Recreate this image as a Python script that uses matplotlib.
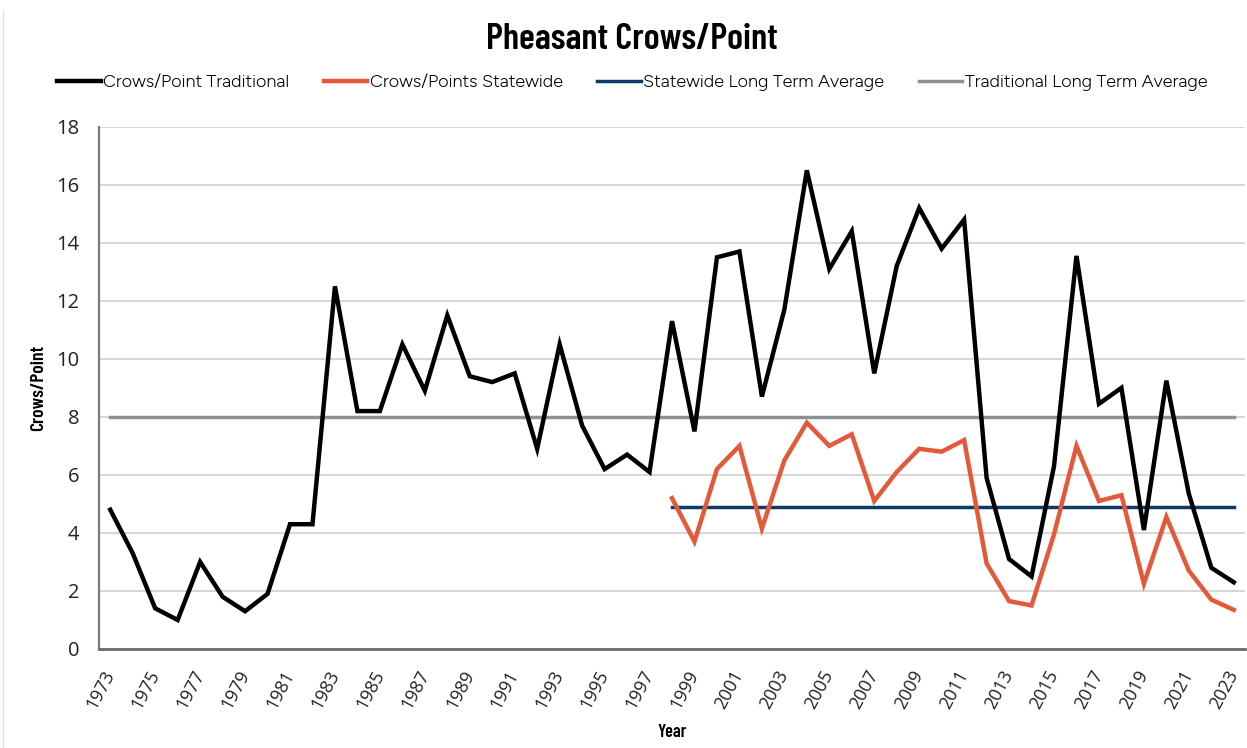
import matplotlib
matplotlib.use("Agg")
import matplotlib.pyplot as plt
from matplotlib.lines import Line2D
import numpy as np

years = list(range(1973, 2024))
traditional = [4.8, 3.3, 1.4, 1.0, 3.0, 1.8, 1.3, 1.9, 4.3, 4.3,
               12.5, 8.2, 8.2, 10.5, 8.9, 11.5, 9.4, 9.2, 9.5, 6.9,
               10.5, 7.7, 6.2, 6.7, 6.1, 11.3, 7.5, 13.5, 13.7, 8.7,
               11.7, 16.5, 13.1, 14.4, 9.5, 13.2, 15.2, 13.8, 14.8, 5.9,
               3.1, 2.5, 6.3, 13.55, 8.45, 9.0, 4.1, 9.25, 5.35, 2.8, 2.3]
statewide_years = list(range(1998, 2024))
statewide = [5.2, 3.7, 6.2, 7.0, 4.15, 6.5, 7.8, 7.0, 7.4, 5.1,
             6.1, 6.9, 6.8, 7.2, 2.95, 1.65, 1.5, 3.95, 7.0, 5.1,
             5.3, 2.25, 4.55, 2.7, 1.7, 1.35]
statewide_avg = 4.88
traditional_avg = 8.0

title = "Pheasant Crows/Point"
labels = ["Crows/Point Traditional", "Crows/Points Statewide",
          "Statewide Long Term Average", "Traditional Long Term Average"]
ylabel = "Crows/Point"
xlabel = "Year"

cond = ["Barlow Condensed", "DejaVu Sans"]
legfont = ["Figtree", "Roboto", "DejaVu Sans"]
tickfont = ["Open Sans", "DejaVu Sans"]

fig = plt.figure(figsize=(12.47, 7.48), dpi=100)
ax = fig.add_axes([0.0794, 0.1324, 0.9190, 0.6981])

xpos = {y: i for i, y in enumerate(years)}
x_trad = [xpos[y] for y in years]
x_state = [xpos[y] for y in statewide_years]

l1, = ax.plot(x_trad, traditional, color="black", lw=3.2, solid_joinstyle="miter", zorder=4)
l2, = ax.plot(x_state, statewide, color="#e4593a", lw=3.2, solid_joinstyle="miter", zorder=3)
l3, = ax.plot(x_state, [statewide_avg] * len(x_state), color="#0d3b66", lw=2.5, zorder=2)
l4, = ax.plot(x_trad, [traditional_avg] * len(x_trad), color="#8c9196", lw=2.5, zorder=2)

ax.set_xlim(-0.5, len(years) - 0.5)
ax.set_ylim(0, 18)
ax.set_yticks(np.arange(0, 19, 2))
ax.yaxis.grid(True, color="#d6d6d6", lw=1.4)
ax.set_axisbelow(True)
ax.set_xticks(x_trad[::2])
ax.set_xticklabels([str(y) for y in years[::2]], rotation=62, ha="right", va="center",
                   rotation_mode="anchor", family=tickfont, fontsize=13, color="#222222")
for t in ax.get_yticklabels():
    t.set_family(tickfont)
    t.set_fontsize(14.5)
    t.set_color("#222222")
ax.tick_params(axis="y", length=0, pad=14)
ax.tick_params(axis="x", length=0, pad=16)

for s in ["top", "right"]:
    ax.spines[s].set_visible(False)
ax.spines["left"].set_color("#7a7a7a")
ax.spines["left"].set_linewidth(1.6)
ax.spines["bottom"].set_color("#6b6b6b")
ax.spines["bottom"].set_linewidth(2)

ax.set_ylabel(ylabel, family=cond, fontsize=14, fontweight="semibold")
ax.yaxis.set_label_coords(-0.045, 0.5)
ax.set_xlabel(xlabel, family=cond, fontsize=13, fontweight="semibold")
ax.xaxis.set_label_coords(0.5, -0.143)

fig.text(0.507, 0.947, title, ha="center", va="center", family=cond,
         fontsize=26.5, fontweight="semibold")

fig.legend([l1, l2, l3, l4], labels, loc="center", bbox_to_anchor=(0.507, 0.889),
           ncol=4, frameon=False, handlelength=2.4, handletextpad=0.15,
           columnspacing=1.9, prop={"family": legfont, "size": 13})

fig.add_artist(Line2D([0.0025, 0.0025], [0.0, 0.987], transform=fig.transFigure,
                      color="#e3e3e3", lw=1))

fig.savefig("out.png", dpi=100, facecolor="white")
